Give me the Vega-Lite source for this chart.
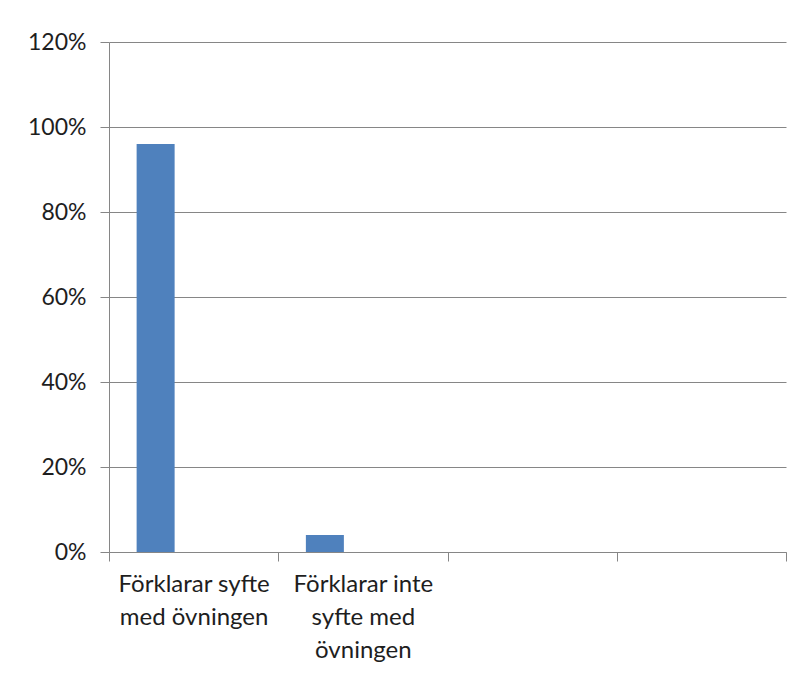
{
  "$schema": "https://vega.github.io/schema/vega-lite/v6.json",
  "width": 677,
  "height": 510,
  "autosize": {"type": "none"},
  "padding": {"left": 109, "top": 42, "right": 23, "bottom": 127},
  "background": "white",
  "config": {
    "view": {"stroke": null},
    "font": "Lato",
    "axis": {
      "labelFont": "Lato",
      "labelColor": "#1e1e1e",
      "domainColor": "#868686",
      "tickColor": "#868686",
      "gridColor": "#868686",
      "domainWidth": 1,
      "tickWidth": 1,
      "gridWidth": 1
    }
  },
  "data": {
    "values": [
      {"kategori": "Förklarar syfte med övningen", "serie": "S1", "andel": 0.96},
      {"kategori": "Förklarar inte syfte med övningen", "serie": "S1", "andel": 0.04}
    ]
  },
  "mark": {"type": "bar", "color": "#4f81bd"},
  "encoding": {
    "x": {
      "field": "kategori",
      "type": "nominal",
      "sort": null,
      "scale": {
        "domain": ["Förklarar syfte med övningen", "Förklarar inte syfte med övningen", "c3", "c4"],
        "paddingInner": 0,
        "paddingOuter": 0
      },
      "axis": {
        "title": null,
        "labelAngle": 0,
        "tickBand": "extent",
        "tickSize": 9,
        "labelFontSize": 24,
        "labelPadding": 11,
        "labelLineHeight": 33,
        "labelBaseline": "top",
        "labelExpr": "datum.value == 'Förklarar syfte med övningen' ? ['Förklarar syfte', 'med övningen'] : datum.value == 'Förklarar inte syfte med övningen' ? ['Förklarar inte', 'syfte med', 'övningen'] : ''",
        "grid": false
      }
    },
    "xOffset": {
      "field": "serie",
      "type": "nominal",
      "scale": {"domain": ["S1", "S2", "S3"], "paddingInner": 0, "paddingOuter": 0.727}
    },
    "y": {
      "field": "andel",
      "type": "quantitative",
      "scale": {"domain": [0, 1.2], "nice": false},
      "axis": {
        "title": null,
        "format": ".0%",
        "values": [0, 0.2, 0.4, 0.6, 0.8, 1.0, 1.2],
        "tickSize": 9,
        "labelFontSize": 23,
        "labelPadding": 14,
        "grid": true
      }
    }
  }
}
